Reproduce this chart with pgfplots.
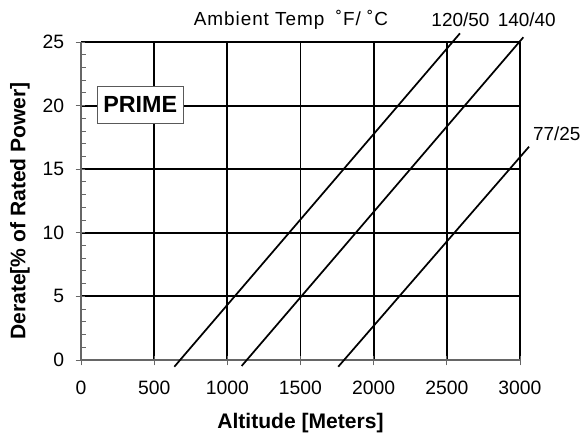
\documentclass[border=0pt]{standalone}
\usepackage{fontspec}
\setmainfont{Liberation Sans}
\newfontfamily\spaced[LetterSpace=5]{Liberation Sans}
\usepackage{pgfplots}
\pgfplotsset{compat=1.18}
\begin{document}
\begin{tikzpicture}
\begin{axis}[
    name=ax,
    scale only axis,
    width=329.25pt,
    height=238.5pt,
    xmin=0, xmax=3000,
    ymin=0, ymax=25,
    xtick={0,500,...,3000},
    ytick={0,5,...,25},
    minor y tick num=4,
    grid=major,
    major grid style={black, line width=1.4pt},
    axis lines=left,
    axis line style={-, gray!80!black, line width=1pt},
    tick style={gray!80!black, line width=0.7pt},
    tick align=inside,
    major tick length=3pt,
    minor tick length=3.5pt,
    extra x ticks={0,500,...,3000},
    extra y ticks={0,5,...,25},
    extra x tick labels={},
    extra y tick labels={},
    extra tick style={grid=none, tick align=outside, major tick length=4pt},
    clip=false,
    ticklabel style={font=\fontsize{14.5}{16}\selectfont, inner sep=0pt},
    xticklabel style={anchor=center, yshift=-21pt},
    yticklabel style={anchor=east, xshift=-12.5pt},
    /pgf/number format/assume math mode=true,
    /pgf/number format/1000 sep={},
    xlabel={\textbf{Altitude [Meters]}},
    ylabel={\textbf{Derate[\% of Rated Power]}},
    label style={font=\fontsize{15.8}{18}\selectfont},
    xlabel style={at={(axis description cs:0.5,-0.198)}, anchor=center},
    ylabel style={at={(axis description cs:-0.139,0.469)}, anchor=center},
]
\addplot[black, line width=1.3pt] coordinates {(638,-0.53) (2590,25.68)};
\addplot[black, line width=1.3pt] coordinates {(1098,-0.47) (3023,25.37)};
\addplot[black, line width=1.3pt] coordinates {(1758,-0.53) (3062,16.77)};

\node[font=\fontsize{14.2}{16}\selectfont\spaced] at (axis cs:1435,26.75) {Ambient Temp\hspace{4pt} ˚F/ ˚C};
\node[font=\fontsize{14.2}{16}\selectfont] at (axis cs:2593,26.75) {120/50};
\node[font=\fontsize{14.2}{16}\selectfont] at (axis cs:3046,26.75) {140/40};
\node[font=\fontsize{14.2}{16}\selectfont] at (axis cs:3251,17.82) {77/25};
\node[draw=gray!70!black, line width=0.8pt, fill=white, minimum width=64.5pt, minimum height=27.5pt, inner sep=0pt, font=\fontsize{17.5}{19}\selectfont\bfseries] at (axis cs:405,20.05) {PRIME};

\coordinate (bl) at (axis cs:-553.5,-5.90);
\coordinate (tr) at (axis cs:3437.5,28.30);
\end{axis}
\pgfresetboundingbox
\useasboundingbox (bl) rectangle (tr);
\end{tikzpicture}
\end{document}
